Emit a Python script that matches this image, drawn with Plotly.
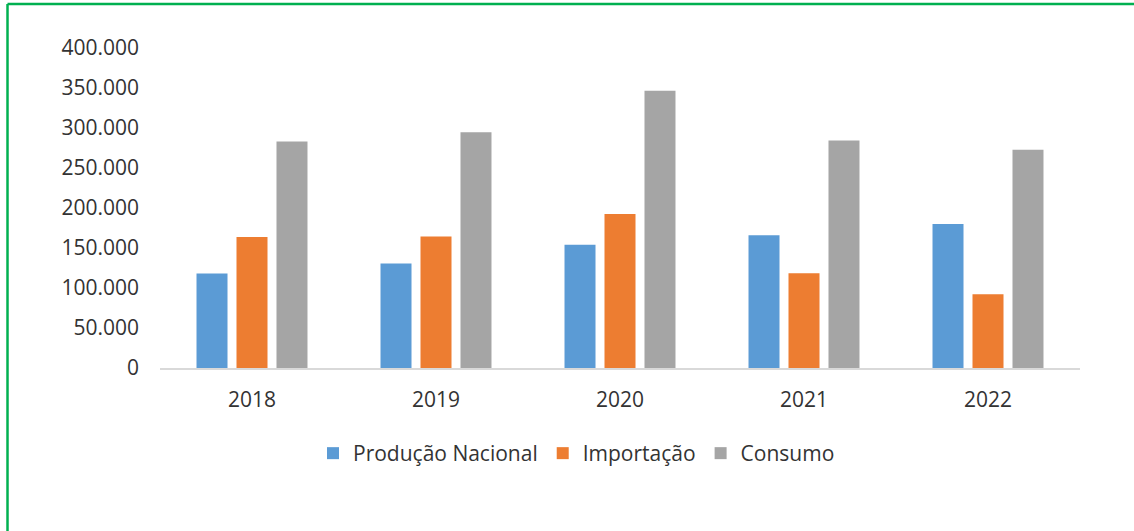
import plotly.graph_objects as go

# Dados anuais (toneladas)
anos = ["2018", "2019", "2020", "2021", "2022"]
producao_nacional = [118000, 130500, 154000, 166000, 180000]
importacao = [163700, 164500, 192400, 118300, 92100]
consumo = [283000, 294800, 346700, 284300, 272700]

serie_nomes = ["Produção Nacional", "Importação", "Consumo"]
serie_cores = ["#5B9BD5", "#ED7D31", "#A5A5A5"]
serie_valores = [producao_nacional, importacao, consumo]

W, H = 1134, 531
ML, MR, MT, MB = 160, 54, 48, 163
PW, PH = W - ML - MR, H - MT - MB

fig = go.Figure()
for nome, cor, vals in zip(serie_nomes, serie_cores, serie_valores):
    fig.add_trace(go.Bar(x=anos, y=vals, name=nome, marker=dict(color=cor, line=dict(width=0))))

txt = "#333333"
fonte = "Open Sans"
tam = 21

fig.update_layout(
    width=W, height=H,
    margin=dict(l=ML, r=MR, t=MT, b=MB, pad=0),
    paper_bgcolor="white", plot_bgcolor="white",
    separators=",.",
    barmode="group", bargap=0.348, bargroupgap=0.225,
    font=dict(family=fonte, size=tam, color=txt),
    showlegend=True,
    legend=dict(
        orientation="h", x=(313 - ML) / PW, xanchor="left",
        y=(MT + PH - 433) / PH, yanchor="top",
        font=dict(family=fonte, size=tam, color=txt),
        itemsizing="constant", traceorder="normal",
        bgcolor="rgba(0,0,0,0)",
    ),
    xaxis=dict(
        showgrid=False, showline=True, linecolor="#D9D9D9", linewidth=1.5,
        ticks="", ticklabelstandoff=12,
        tickfont=dict(family=fonte, size=tam, color=txt),
    ),
    yaxis=dict(
        range=[0, 400000], dtick=50000, tickformat=",d",
        showgrid=False, zeroline=False, showline=False,
        ticks="", ticklabelstandoff=20,
        tickfont=dict(family=fonte, size=tam, color=txt),
    ),
)

# Moldura verde (topo e lateral esquerda)
def px_x(p):
    return (p - ML) / PW

def px_y(p):
    return (MT + PH - p) / PH

verde = "#00B050"
fig.add_shape(type="line", xref="paper", yref="paper",
              x0=px_x(7.5), x1=px_x(W + 5), y0=px_y(4), y1=px_y(4),
              line=dict(color=verde, width=2.5))
fig.add_shape(type="line", xref="paper", yref="paper",
              x0=px_x(7.5), x1=px_x(7.5), y0=px_y(4), y1=px_y(H + 5),
              line=dict(color=verde, width=2.5))

fig.write_html("out.html")
